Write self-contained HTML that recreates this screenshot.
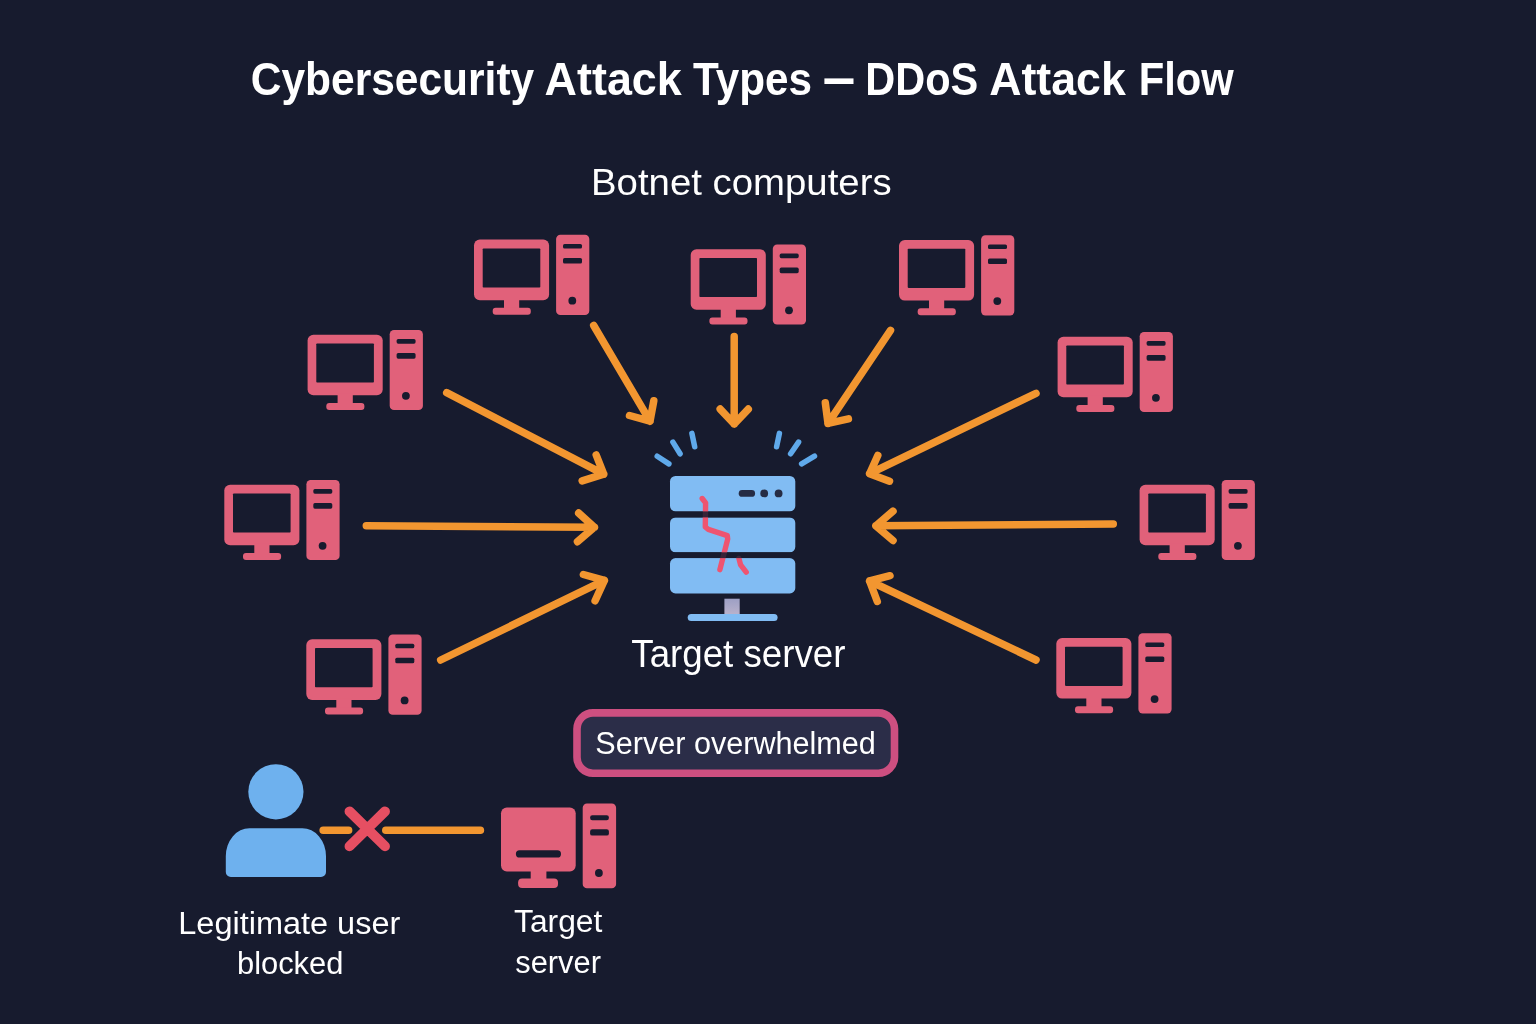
<!DOCTYPE html>
<html><head><meta charset="utf-8"><title>DDoS Attack Flow</title>
<style>html,body{margin:0;padding:0;background:#171b2e;}body{width:1536px;height:1024px;overflow:hidden;}svg{display:block;will-change:transform;}text{font-family:"Liberation Sans",sans-serif;fill:#fff;stroke:#fff;stroke-width:0;}</style></head><body>
<svg width="1536" height="1024" viewBox="0 0 1536 1024">
<rect width="1536" height="1024" fill="#171b2e"/>
<text x="250.8" y="95" font-size="46" font-weight="700" textLength="283.4" lengthAdjust="spacingAndGlyphs">Cybersecurity</text>
<text x="544.6" y="95" font-size="46" font-weight="700" textLength="137.2" lengthAdjust="spacingAndGlyphs">Attack</text>
<text x="693.1" y="95" font-size="46" font-weight="700" textLength="118.9" lengthAdjust="spacingAndGlyphs">Types</text>
<text x="865.3" y="95" font-size="46" font-weight="700" textLength="113.0" lengthAdjust="spacingAndGlyphs">DDoS</text>
<text x="989.2" y="95" font-size="46" font-weight="700" textLength="136.6" lengthAdjust="spacingAndGlyphs">Attack</text>
<text x="1138.7" y="95" font-size="46" font-weight="700" textLength="94.9" lengthAdjust="spacingAndGlyphs">Flow</text>
<rect x="824.4" y="78.4" width="29.1" height="5.6" fill="#fff"/>
<text x="591" y="195" font-size="37.5" textLength="300.6" lengthAdjust="spacingAndGlyphs" stroke-width="0.3">Botnet computers</text>
<g transform="translate(224.0,484.7)">
<rect x="0.3" y="0" width="75.1" height="60.6" rx="5.8" fill="#e1617a"/>
<rect x="9" y="8.8" width="57.6" height="39.1" rx="0.8" fill="#171b2e"/>
<rect x="30.3" y="59" width="15.2" height="10" fill="#e1617a"/>
<rect x="19" y="68.2" width="38.1" height="7" rx="3" fill="#e1617a"/>
<rect x="82.4" y="-4.8" width="33.2" height="80.2" rx="4.3" fill="#e1617a"/>
<rect x="89.3" y="4.4" width="19" height="4.6" rx="1.6" fill="#171b2e"/>
<rect x="89.3" y="18.4" width="19" height="5.6" rx="1.6" fill="#171b2e"/>
<circle cx="98.6" cy="61.1" r="3.9" fill="#171b2e"/>
</g>
<g transform="translate(307.3,334.7)">
<rect x="0.3" y="0" width="75.1" height="60.6" rx="5.8" fill="#e1617a"/>
<rect x="9" y="8.8" width="57.6" height="39.1" rx="0.8" fill="#171b2e"/>
<rect x="30.3" y="59" width="15.2" height="10" fill="#e1617a"/>
<rect x="19" y="68.2" width="38.1" height="7" rx="3" fill="#e1617a"/>
<rect x="82.4" y="-4.8" width="33.2" height="80.2" rx="4.3" fill="#e1617a"/>
<rect x="89.3" y="4.4" width="19" height="4.6" rx="1.6" fill="#171b2e"/>
<rect x="89.3" y="18.4" width="19" height="5.6" rx="1.6" fill="#171b2e"/>
<circle cx="98.6" cy="61.1" r="3.9" fill="#171b2e"/>
</g>
<g transform="translate(473.7,239.6)">
<rect x="0.3" y="0" width="75.1" height="60.6" rx="5.8" fill="#e1617a"/>
<rect x="9" y="8.8" width="57.6" height="39.1" rx="0.8" fill="#171b2e"/>
<rect x="30.3" y="59" width="15.2" height="10" fill="#e1617a"/>
<rect x="19" y="68.2" width="38.1" height="7" rx="3" fill="#e1617a"/>
<rect x="82.4" y="-4.8" width="33.2" height="80.2" rx="4.3" fill="#e1617a"/>
<rect x="89.3" y="4.4" width="19" height="4.6" rx="1.6" fill="#171b2e"/>
<rect x="89.3" y="18.4" width="19" height="5.6" rx="1.6" fill="#171b2e"/>
<circle cx="98.6" cy="61.1" r="3.9" fill="#171b2e"/>
</g>
<g transform="translate(690.4,249.2)">
<rect x="0.3" y="0" width="75.1" height="60.6" rx="5.8" fill="#e1617a"/>
<rect x="9" y="8.8" width="57.6" height="39.1" rx="0.8" fill="#171b2e"/>
<rect x="30.3" y="59" width="15.2" height="10" fill="#e1617a"/>
<rect x="19" y="68.2" width="38.1" height="7" rx="3" fill="#e1617a"/>
<rect x="82.4" y="-4.8" width="33.2" height="80.2" rx="4.3" fill="#e1617a"/>
<rect x="89.3" y="4.4" width="19" height="4.6" rx="1.6" fill="#171b2e"/>
<rect x="89.3" y="18.4" width="19" height="5.6" rx="1.6" fill="#171b2e"/>
<circle cx="98.6" cy="61.1" r="3.9" fill="#171b2e"/>
</g>
<g transform="translate(898.7,240.0)">
<rect x="0.3" y="0" width="75.1" height="60.6" rx="5.8" fill="#e1617a"/>
<rect x="9" y="8.8" width="57.6" height="39.1" rx="0.8" fill="#171b2e"/>
<rect x="30.3" y="59" width="15.2" height="10" fill="#e1617a"/>
<rect x="19" y="68.2" width="38.1" height="7" rx="3" fill="#e1617a"/>
<rect x="82.4" y="-4.8" width="33.2" height="80.2" rx="4.3" fill="#e1617a"/>
<rect x="89.3" y="4.4" width="19" height="4.6" rx="1.6" fill="#171b2e"/>
<rect x="89.3" y="18.4" width="19" height="5.6" rx="1.6" fill="#171b2e"/>
<circle cx="98.6" cy="61.1" r="3.9" fill="#171b2e"/>
</g>
<g transform="translate(1057.3,336.7)">
<rect x="0.3" y="0" width="75.1" height="60.6" rx="5.8" fill="#e1617a"/>
<rect x="9" y="8.8" width="57.6" height="39.1" rx="0.8" fill="#171b2e"/>
<rect x="30.3" y="59" width="15.2" height="10" fill="#e1617a"/>
<rect x="19" y="68.2" width="38.1" height="7" rx="3" fill="#e1617a"/>
<rect x="82.4" y="-4.8" width="33.2" height="80.2" rx="4.3" fill="#e1617a"/>
<rect x="89.3" y="4.4" width="19" height="4.6" rx="1.6" fill="#171b2e"/>
<rect x="89.3" y="18.4" width="19" height="5.6" rx="1.6" fill="#171b2e"/>
<circle cx="98.6" cy="61.1" r="3.9" fill="#171b2e"/>
</g>
<g transform="translate(1139.3,484.7)">
<rect x="0.3" y="0" width="75.1" height="60.6" rx="5.8" fill="#e1617a"/>
<rect x="9" y="8.8" width="57.6" height="39.1" rx="0.8" fill="#171b2e"/>
<rect x="30.3" y="59" width="15.2" height="10" fill="#e1617a"/>
<rect x="19" y="68.2" width="38.1" height="7" rx="3" fill="#e1617a"/>
<rect x="82.4" y="-4.8" width="33.2" height="80.2" rx="4.3" fill="#e1617a"/>
<rect x="89.3" y="4.4" width="19" height="4.6" rx="1.6" fill="#171b2e"/>
<rect x="89.3" y="18.4" width="19" height="5.6" rx="1.6" fill="#171b2e"/>
<circle cx="98.6" cy="61.1" r="3.9" fill="#171b2e"/>
</g>
<g transform="translate(306.0,639.3)">
<rect x="0.3" y="0" width="75.1" height="60.6" rx="5.8" fill="#e1617a"/>
<rect x="9" y="8.8" width="57.6" height="39.1" rx="0.8" fill="#171b2e"/>
<rect x="30.3" y="59" width="15.2" height="10" fill="#e1617a"/>
<rect x="19" y="68.2" width="38.1" height="7" rx="3" fill="#e1617a"/>
<rect x="82.4" y="-4.8" width="33.2" height="80.2" rx="4.3" fill="#e1617a"/>
<rect x="89.3" y="4.4" width="19" height="4.6" rx="1.6" fill="#171b2e"/>
<rect x="89.3" y="18.4" width="19" height="5.6" rx="1.6" fill="#171b2e"/>
<circle cx="98.6" cy="61.1" r="3.9" fill="#171b2e"/>
</g>
<g transform="translate(1056.0,638.0)">
<rect x="0.3" y="0" width="75.1" height="60.6" rx="5.8" fill="#e1617a"/>
<rect x="9" y="8.8" width="57.6" height="39.1" rx="0.8" fill="#171b2e"/>
<rect x="30.3" y="59" width="15.2" height="10" fill="#e1617a"/>
<rect x="19" y="68.2" width="38.1" height="7" rx="3" fill="#e1617a"/>
<rect x="82.4" y="-4.8" width="33.2" height="80.2" rx="4.3" fill="#e1617a"/>
<rect x="89.3" y="4.4" width="19" height="4.6" rx="1.6" fill="#171b2e"/>
<rect x="89.3" y="18.4" width="19" height="5.6" rx="1.6" fill="#171b2e"/>
<circle cx="98.6" cy="61.1" r="3.9" fill="#171b2e"/>
</g>
<path d="M366.3 525.7L594.4 527.2M578.7 513.1L594.4 527.2L577.5 541.7" fill="none" stroke="#f29630" stroke-width="7.5" stroke-linecap="round" stroke-linejoin="round"/>
<path d="M446.7 392.7L603.7 474.2M596.2 455.0L603.7 474.2L582.2 480.8" fill="none" stroke="#f29630" stroke-width="7.5" stroke-linecap="round" stroke-linejoin="round"/>
<path d="M593.7 325.5L650.0 421.2M629.5 415.5L650.0 421.2L653.8 400.8" fill="none" stroke="#f29630" stroke-width="7.5" stroke-linecap="round" stroke-linejoin="round"/>
<path d="M734.2 336.5L734.2 424.0M720.2 409.1L734.2 424.0L748.3 409.1" fill="none" stroke="#f29630" stroke-width="7.5" stroke-linecap="round" stroke-linejoin="round"/>
<path d="M890.5 330.4L828.0 423.4M825.3 402.8L828.0 423.4L848.4 418.9" fill="none" stroke="#f29630" stroke-width="7.5" stroke-linecap="round" stroke-linejoin="round"/>
<path d="M1036.0 393.3L869.6 473.7M877.8 455.5L869.6 473.7L889.5 481.2" fill="none" stroke="#f29630" stroke-width="7.5" stroke-linecap="round" stroke-linejoin="round"/>
<path d="M1113.3 524.0L875.9 525.8M893.0 511.2L875.9 525.8L893.0 540.5" fill="none" stroke="#f29630" stroke-width="7.5" stroke-linecap="round" stroke-linejoin="round"/>
<path d="M440.7 660.0L604.4 580.4M583.4 574.5L604.4 580.4L595.1 600.8" fill="none" stroke="#f29630" stroke-width="7.5" stroke-linecap="round" stroke-linejoin="round"/>
<path d="M1036.0 660.0L869.6 581.0M890.0 575.7L869.6 581.0L877.3 601.5" fill="none" stroke="#f29630" stroke-width="7.5" stroke-linecap="round" stroke-linejoin="round"/>
<line x1="691.9" y1="433.4" x2="694.7" y2="446.8" stroke="#5fa9ea" stroke-width="5.5" stroke-linecap="round"/>
<line x1="672.9" y1="442.1" x2="680.1" y2="453.8" stroke="#5fa9ea" stroke-width="5.5" stroke-linecap="round"/>
<line x1="657.2" y1="456.2" x2="668.9" y2="463.9" stroke="#5fa9ea" stroke-width="5.5" stroke-linecap="round"/>
<line x1="779.4" y1="433.4" x2="776.6" y2="446.8" stroke="#5fa9ea" stroke-width="5.5" stroke-linecap="round"/>
<line x1="798.6" y1="442.1" x2="790.6" y2="453.8" stroke="#5fa9ea" stroke-width="5.5" stroke-linecap="round"/>
<line x1="814.5" y1="456.2" x2="801.6" y2="463.9" stroke="#5fa9ea" stroke-width="5.5" stroke-linecap="round"/>
<rect x="670" y="476" width="125.3" height="35.4" rx="5.5" fill="#81bcf3"/>
<rect x="670" y="517.4" width="125.3" height="34.9" rx="5.5" fill="#81bcf3"/>
<rect x="670" y="558.1" width="125.3" height="35.3" rx="5.5" fill="#81bcf3"/>
<rect x="738.7" y="490" width="16.4" height="6.8" rx="3.4" fill="#262c44"/>
<circle cx="764.2" cy="493.4" r="3.9" fill="#262c44"/><circle cx="778.6" cy="493.4" r="3.9" fill="#262c44"/>
<defs><linearGradient id="st" x1="0" y1="0" x2="0" y2="1"><stop offset="0" stop-color="#9d9fc4"/><stop offset="1" stop-color="#b9b2cc"/></linearGradient></defs>
<rect x="724.4" y="598.7" width="15.3" height="16" fill="url(#st)"/>
<rect x="687.7" y="614" width="89.9" height="7" rx="3.5" fill="#81bcf3"/>
<path d="M702.2 498.5L705.6 502.9L705.3 527L708.3 529.4L727.3 535.6L727.7 539.1L719.9 569.7" fill="none" stroke="#ee5470" stroke-width="5.4" stroke-linecap="round" stroke-linejoin="round"/>
<path d="M738.9 558.4L740.6 564.9L746.2 572.1" fill="none" stroke="#ee5470" stroke-width="5.4" stroke-linecap="round" stroke-linejoin="round"/>
<rect x="670" y="511.4" width="125.3" height="6" fill="#171b2e" opacity="0.85"/>
<rect x="670" y="552.3" width="125.3" height="5.8" fill="#171b2e" opacity="0.85"/>
<text x="631.3" y="666.8" font-size="38" textLength="214.2" lengthAdjust="spacingAndGlyphs" stroke-width="0.8">Target server</text>
<rect x="577" y="712.9" width="317.5" height="60.3" rx="16" fill="#2b2d48" stroke="#cd4f80" stroke-width="7.6"/>
<text x="595.3" y="754.2" font-size="31" textLength="280.6" lengthAdjust="spacingAndGlyphs" stroke-width="0.55">Server overwhelmed</text>
<circle cx="275.9" cy="791.8" r="27.6" fill="#6eb1ee"/>
<path d="M225.8 872V856.2a23.7 28 0 0 1 23.7-28h52.8a23.7 28 0 0 1 23.7 28v15.8a5 5 0 0 1-5 5h-90.2a5 5 0 0 1-5-5z" fill="#6eb1ee"/>
<path d="M323.2 830.2H348.6M385.8 830.2H480.4" stroke="#f29630" stroke-width="7.6" stroke-linecap="round" fill="none"/>
<path d="M349.5 811.4L385 846.2M385 811.4L349.5 846.2" stroke="#e64f62" stroke-width="9.9" stroke-linecap="round" fill="none"/>
<rect x="501" y="807.5" width="74.7" height="63.9" rx="5.8" fill="#e1617a"/>
<rect x="515.9" y="850.3" width="45.1" height="7.2" rx="3.6" fill="#171b2e"/>
<rect x="530.7" y="870" width="15.7" height="10" fill="#e1617a"/>
<rect x="518.1" y="878.5" width="39.9" height="9.5" rx="4" fill="#e1617a"/>
<rect x="582.7" y="803.5" width="33.4" height="84.8" rx="4.3" fill="#e1617a"/>
<rect x="590.1" y="815.2" width="18.8" height="5" rx="2.2" fill="#171b2e"/>
<rect x="590.1" y="829.3" width="18.8" height="6.3" rx="2.2" fill="#171b2e"/>
<circle cx="598.9" cy="873" r="3.9" fill="#171b2e"/>
<text x="178.3" y="934" font-size="31" textLength="222" lengthAdjust="spacingAndGlyphs" stroke-width="0.9">Legitimate user</text>
<text x="237" y="974" font-size="31" textLength="106.4" lengthAdjust="spacingAndGlyphs" stroke-width="0.9">blocked</text>
<text x="514" y="931.7" font-size="31" textLength="88.4" lengthAdjust="spacingAndGlyphs" stroke-width="0.8">Target</text>
<text x="515.3" y="973" font-size="31" textLength="85.6" lengthAdjust="spacingAndGlyphs" stroke-width="0.8">server</text>
</svg></body></html>
